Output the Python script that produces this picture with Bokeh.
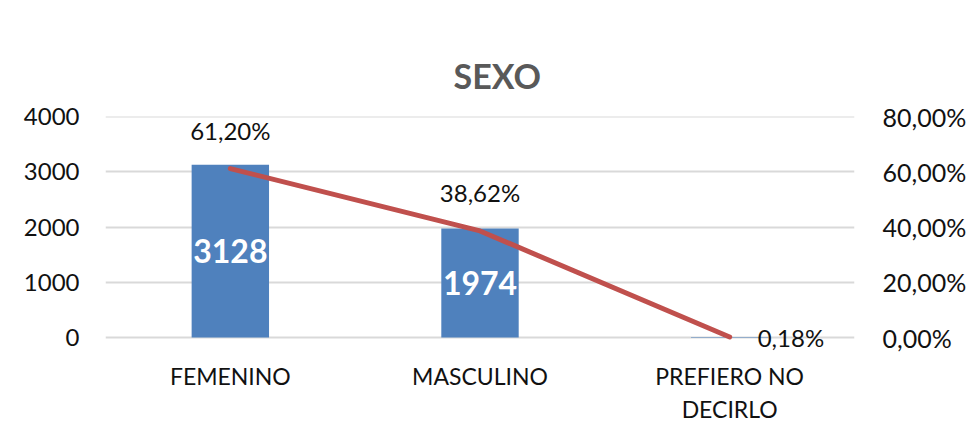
from bokeh.plotting import figure
from bokeh.models import (Range1d, LinearAxis, FixedTicker,
                          CustomJSTickFormatter, ColumnDataSource)
from bokeh.core.properties import value
from bokeh.embed import file_html
from bokeh.resources import INLINE

categories = ["FEMENINO", "MASCULINO", "PREFIERO NO DECIRLO"]
category_labels = ["FEMENINO", "MASCULINO", "PREFIERO NO\nDECIRLO"]
counts = [3128, 1974, 9]
percents = [61.20, 38.62, 0.18]
left_ticks = [0, 1000, 2000, 3000, 4000]
right_ticks = [0, 20, 40, 60, 80]
title_text = "SEXO"

FONT = "Lato"
W, H = 969, 426
FL, FR, FT, Y0 = 105, 862, 116, 337   # frame edges / zero line in page pixels
EXTRA = 15                            # frame extends below zero line
FB = Y0 + EXTRA
LMAX, RMAX = left_ticks[-1], right_ticks[-1]
lpad = EXTRA * LMAX / (Y0 - FT)
rpad = EXTRA * RMAX / (Y0 - FT)
n = len(categories)
xpos = list(range(n))

def fmt_pct(v):
    return ("%.2f" % v).replace(".", ",") + "%"

p = figure(x_range=Range1d(-0.5, n - 0.5),
           y_range=Range1d(-lpad, LMAX + 4),
           width=W, height=H, output_backend="svg", toolbar_location=None,
           min_border_left=FL, min_border_right=W - FR, min_border_top=FT,
           min_border_bottom=H - FB, x_axis_location=None, y_axis_location=None)
p.extra_y_ranges = {"pct": Range1d(-rpad, RMAX + 0.08)}
p.outline_line_color = None
p.background_fill_color = "white"
p.border_fill_color = "white"

p.title.text = title_text
p.title.align = "left"
p.title.text_font = FONT
p.title.text_font_style = "bold"
p.title.text_font_size = "34px"
p.title.text_color = "#595959"
p.title.offset = 348
p.title.standoff = 42

src = ColumnDataSource(dict(x=xpos, n=counts, pct=percents))

p.vbar(x="x", top="n", width=0.31, source=src, fill_color="#4F81BD",
       line_color=None)
p.line(x="x", y="pct", source=src, y_range_name="pct", line_color="#C0504D",
       line_width=5, line_cap="round")

# bar value labels (visible bars only)
bsrc = ColumnDataSource(dict(x=xpos[:2], y=[v / 2 for v in counts[:2]],
                             t=[str(v) for v in counts[:2]]))
p.text(x="x", y="y", text="t", source=bsrc, text_color="white",
       text_font=value(FONT), text_font_style="bold", text_font_size="32px",
       text_align="center", text_baseline="middle")

# percent labels
psrc = ColumnDataSource(dict(x=xpos[:2], y=percents[:2],
                             t=[fmt_pct(v) for v in percents[:2]]))
p.text(x="x", y="y", text="t", source=psrc, y_range_name="pct",
       text_color="#111111", text_font=value(FONT), text_font_size="24px",
       text_align="center", text_baseline="bottom", y_offset=-24)
psrc2 = ColumnDataSource(dict(x=xpos[2:], y=percents[2:],
                              t=[fmt_pct(v) for v in percents[2:]]))
p.text(x="x", y="y", text="t", source=psrc2, y_range_name="pct",
       text_color="#111111", text_font=value(FONT), text_font_size="24px",
       text_align="left", text_baseline="middle", x_offset=28)

def style(ax, size, std):
    ax.axis_line_color = None
    ax.major_tick_line_color = None
    ax.minor_tick_line_color = None
    ax.major_tick_out = 0
    ax.major_tick_in = 0
    ax.minor_tick_out = 0
    ax.minor_tick_in = 0
    ax.major_label_text_font = FONT
    ax.major_label_text_color = "#111111"
    ax.major_label_text_font_size = size
    ax.major_label_standoff = std

laxis = LinearAxis(ticker=FixedTicker(ticks=left_ticks))
style(laxis, "24px", 26)
raxis = LinearAxis(y_range_name="pct", ticker=FixedTicker(ticks=right_ticks),
                   formatter=CustomJSTickFormatter(
                       code="return tick.toFixed(2).replace('.', ',') + '%';"))
style(raxis, "25px", 28)
p.add_layout(laxis, "left")
p.add_layout(raxis, "right")

# category labels: one axis per text line
lines = [lab.split("\n") for lab in category_labels]
nlines = max(len(l) for l in lines)
for j in range(nlines):
    cax = LinearAxis(ticker=FixedTicker(ticks=xpos))
    style(cax, "23px", 9 if j == 0 else 2)
    cax.major_label_overrides = {x: (l[j] if j < len(l) else " ")
                                 for x, l in zip(xpos, lines)}
    p.add_layout(cax, "below")

p.ygrid.grid_line_color = "#d9d9d9"
p.ygrid.grid_line_width = 2
p.ygrid.ticker = FixedTicker(ticks=left_ticks)
p.xgrid.grid_line_color = None

open("out.html", "w").write(file_html(p, INLINE))
